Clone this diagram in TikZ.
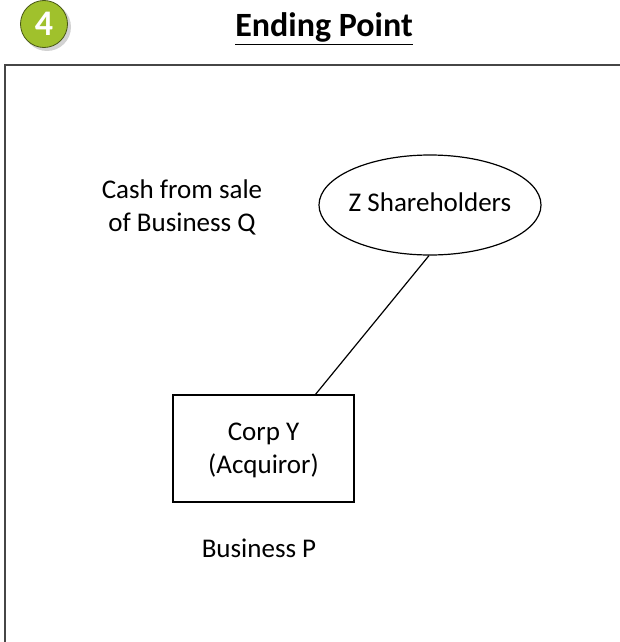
\documentclass[tikz,border=0pt]{standalone}
\usepackage{fontspec}
\setmainfont{Carlito}
\usetikzlibrary{shapes.geometric}
\definecolor{badgegreen}{RGB}{160,193,44}
\definecolor{framegray}{RGB}{70,70,70}
\tikzset{
  lbl/.style={font=\fontsize{27}{33}\selectfont, align=center, inner sep=0pt},
  ent/.style={draw=black, line width=1.2pt},
}
\begin{document}
\begin{tikzpicture}[x=1pt,y=-1pt]
\useasboundingbox (0,0) rectangle (620,642);
% frame
\draw[framegray, line width=2.2pt] (5,642) -- (5,65) -- (620,65);
% badge
\fill[gray!35] (47,27) circle (24);
\node[circle, fill=badgegreen, draw=black!55!badgegreen, line width=0.8pt, minimum size=47pt, inner sep=0pt,
      font=\fontsize{36}{36}\selectfont\bfseries, text=white] (badge) at (44,24) {4};
% title
\node[font=\fontsize{34}{38}\selectfont\bfseries, inner sep=0pt, anchor=base] (title) at (324,37) {\underline{Ending Point}};
% entities
\node[ent, ellipse, minimum width=222pt, minimum height=100pt] (zsh) at (430,205) {};
\node[lbl] (zshl) at (430,202) {Z Shareholders};
\node[ent, rectangle, minimum width=181pt, minimum height=107pt] (corp) at (263.5,448.5) {};
\node[lbl] (corpl) at (263.5,450) {Corp Y\\(Acquiror)};
\path (zsh.south) ++(-1,0) coordinate (zs);
\path (corp.north) ++(52,0) coordinate (cn);
\draw[line width=1.2pt] (zs) -- (cn);
\node[lbl] (cash) at (182,207) {Cash from sale\\of Business Q};
\node[lbl] (busp) at (259,548) {Business P};
\end{tikzpicture}
\end{document}
